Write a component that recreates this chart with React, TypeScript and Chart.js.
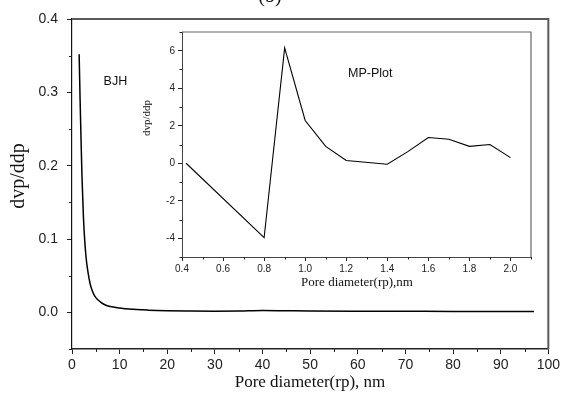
import React, { useEffect, useRef } from "react";
import { Chart, registerables } from "chart.js";
Chart.register(...registerables);

// Main chart (BJH)
const BJH_X = [1.5, 1.7, 1.9, 2.1, 2.4, 2.7, 3.0, 3.4, 3.8, 4.4, 5.0, 6.0, 7.0, 8.0, 10, 12, 16, 20, 25, 30, 35, 40, 45, 50, 60, 70, 80, 90, 97];
const BJH_Y = [0.352, 0.29, 0.235, 0.185, 0.13, 0.095, 0.072, 0.053, 0.039, 0.027, 0.02, 0.014, 0.01, 0.008, 0.006, 0.0045, 0.003, 0.0022, 0.0018, 0.0016, 0.0018, 0.0025, 0.0022, 0.0019, 0.0016, 0.0014, 0.0012, 0.0011, 0.001];
const MAIN_X_TICKS = [0, 10, 20, 30, 40, 50, 60, 70, 80, 90, 100];
const MAIN_X_MINOR = [5, 15, 25, 35, 45, 55, 65, 75, 85, 95];
const MAIN_Y_TICKS = [0.0, 0.1, 0.2, 0.3, 0.4];
const MAIN_Y_MINOR = [-0.05, 0.05, 0.15, 0.25, 0.35];

// Inset chart (MP-Plot)
const MP_X = [0.42, 0.8, 0.9, 1.0, 1.1, 1.2, 1.4, 1.5, 1.6, 1.7, 1.8, 1.9, 2.0];
const MP_Y = [0, -3.97, 6.15, 2.28, 0.9, 0.15, -0.05, 0.62, 1.37, 1.28, 0.9, 1.0, 0.3];
const INSET_X_TICKS = [0.4, 0.6, 0.8, 1.0, 1.2, 1.4, 1.6, 1.8, 2.0];
const INSET_X_MINOR = [0.5, 0.7, 0.9, 1.1, 1.3, 1.5, 1.7, 1.9, 2.1];
const INSET_Y_TICKS = [-4, -2, 0, 2, 4, 6];
const INSET_Y_MINOR = [-5, -3, -1, 1, 3, 5, 7];

const SANS = "'Liberation Sans', Arial, sans-serif";
const SERIF = "'Liberation Serif', 'Times New Roman', serif";

type Decor = {
  xMinor: number[];
  yMinor: number[];
  minorLen: number;
  frameColor: string;
  frameWidth: number;
  texts: { text: string; x: number; y: number; font: string; rotate?: boolean; align?: CanvasTextAlign }[];
  dataTexts: { text: string; x: number; y: number; font: string }[];
};

function makeDecor(d: Decor) {
  return {
    id: "decor",
    afterDraw(chart: any) {
      const ctx = chart.ctx as CanvasRenderingContext2D;
      const { left, right, top, bottom } = chart.chartArea;
      const xs = chart.scales.x;
      const ys = chart.scales.y;
      ctx.save();
      // frame top/right
      ctx.strokeStyle = d.frameColor;
      ctx.lineWidth = d.frameWidth;
      ctx.beginPath();
      ctx.moveTo(left, top);
      ctx.lineTo(right, top);
      ctx.lineTo(right, bottom);
      ctx.stroke();
      // minor ticks
      ctx.strokeStyle = "#222";
      ctx.lineWidth = 1;
      ctx.beginPath();
      d.xMinor.forEach((v) => {
        const px = Math.round(xs.getPixelForValue(v)) + 0.5;
        ctx.moveTo(px, bottom);
        ctx.lineTo(px, bottom + d.minorLen);
      });
      d.yMinor.forEach((v) => {
        const py = Math.round(ys.getPixelForValue(v)) + 0.5;
        ctx.moveTo(left, py);
        ctx.lineTo(left - d.minorLen, py);
      });
      ctx.stroke();
      // texts
      ctx.fillStyle = "#111";
      d.texts.forEach((t) => {
        ctx.save();
        ctx.font = t.font;
        ctx.textAlign = t.align || "center";
        ctx.textBaseline = "middle";
        ctx.translate(t.x, t.y);
        if (t.rotate) ctx.rotate(-Math.PI / 2);
        ctx.fillText(t.text, 0, 0);
        ctx.restore();
      });
      d.dataTexts.forEach((t) => {
        ctx.font = t.font;
        ctx.textAlign = "center";
        ctx.textBaseline = "middle";
        ctx.fillText(t.text, xs.getPixelForValue(t.x), ys.getPixelForValue(t.y));
      });
      ctx.restore();
    },
  };
}

function axis(opts: any) {
  return {
    type: "linear",
    min: opts.min,
    max: opts.max,
    afterBuildTicks: (s: any) => {
      s.ticks = opts.ticks.map((v: number) => ({ value: v }));
    },
    afterFit: opts.afterFit,
    grid: { drawOnChartArea: false, drawTicks: true, tickLength: opts.tickLen, tickColor: "#222", tickWidth: 1 },
    border: { display: true, color: opts.borderColor, width: opts.borderWidth },
    ticks: {
      autoSkip: false,
      maxRotation: 0,
      minRotation: 0,
      padding: opts.padding,
      color: "#222",
      font: { family: SANS, size: opts.fontSize },
      callback: opts.fmt,
    },
  };
}

export default function App() {
  const mainRef = useRef<HTMLCanvasElement>(null);
  const insetRef = useRef<HTMLCanvasElement>(null);

  useEffect(() => {
    document.body.style.margin = "0";
    const main = new Chart(mainRef.current as HTMLCanvasElement, {
      type: "line",
      data: {
        datasets: [
          {
            data: BJH_X.map((x, i) => ({ x, y: BJH_Y[i] })),
            borderColor: "#000",
            borderWidth: 1.5,
            pointRadius: 0,
            cubicInterpolationMode: "monotone",
            fill: false,
          },
        ],
      },
      options: {
        responsive: false,
        animation: false,
        devicePixelRatio: 1,
        layout: { padding: { left: 0, right: 14, top: 19, bottom: 0 } },
        plugins: { legend: { display: false }, tooltip: { enabled: false }, title: { display: false } },
        scales: {
          x: axis({
            min: 0, max: 100, ticks: MAIN_X_TICKS, tickLen: 5, padding: 3, fontSize: 14,
            borderColor: "#222", borderWidth: 1.5,
            afterFit: (s: any) => { s.height = 51; },
            fmt: (v: any) => String(v),
          }),
          y: axis({
            min: -0.05, max: 0.4, ticks: MAIN_Y_TICKS, tickLen: 5, padding: 9, fontSize: 14,
            borderColor: "#111", borderWidth: 1.2,
            afterFit: (s: any) => { s.width = 72; },
            fmt: (v: any) => Number(v).toFixed(1),
          }),
        },
      },
      plugins: [
        makeDecor({
          xMinor: MAIN_X_MINOR,
          yMinor: MAIN_Y_MINOR,
          minorLen: 3,
          frameColor: "#5a5a5a",
          frameWidth: 2,
          texts: [
            { text: "(b)", x: 270, y: -3, font: `20px ${SERIF}` },
            { text: "dvp/ddp", x: 19, y: 176, font: `20px ${SERIF}`, rotate: true },
            { text: "Pore diameter(rp), nm", x: 310, y: 383, font: `17px ${SERIF}` },
          ],
          dataTexts: [{ text: "BJH", x: 9.1, y: 0.315, font: `12.5px ${SANS}` }],
        }) as any,
      ],
    } as any);

    const inset = new Chart(insetRef.current as HTMLCanvasElement, {
      type: "line",
      data: {
        datasets: [
          {
            data: MP_X.map((x, i) => ({ x, y: MP_Y[i] })),
            borderColor: "#000",
            borderWidth: 1.1,
            pointRadius: 0,
            tension: 0,
            fill: false,
          },
        ],
      },
      options: {
        responsive: false,
        animation: false,
        devicePixelRatio: 1,
        layout: { padding: { left: 0, right: 19, top: 12, bottom: 0 } },
        plugins: { legend: { display: false }, tooltip: { enabled: false }, title: { display: false } },
        scales: {
          x: axis({
            min: 0.4, max: 2.1, ticks: INSET_X_TICKS, tickLen: 4, padding: 2, fontSize: 10,
            borderColor: "#444", borderWidth: 1,
            afterFit: (s: any) => { s.height = 43; },
            fmt: (v: any) => Number(v).toFixed(1),
          }),
          y: axis({
            min: -5, max: 7, ticks: INSET_Y_TICKS, tickLen: 4, padding: 3, fontSize: 10,
            borderColor: "#444", borderWidth: 1,
            afterFit: (s: any) => { s.width = 52; },
            fmt: (v: any) => String(v),
          }),
        },
      },
      plugins: [
        makeDecor({
          xMinor: INSET_X_MINOR,
          yMinor: INSET_Y_MINOR,
          minorLen: 2.5,
          frameColor: "#666",
          frameWidth: 1.2,
          texts: [
            { text: "dvp/ddp", x: 17, y: 98, font: `11px ${SERIF}`, rotate: true },
            { text: "Pore diameter(rp),nm", x: 227, y: 263, font: `13px ${SERIF}` },
          ],
          dataTexts: [{ text: "MP-Plot", x: 1.317, y: 4.8, font: `12.5px ${SANS}` }],
        }) as any,
      ],
    } as any);

    return () => {
      main.destroy();
      inset.destroy();
    };
  }, []);

  return (
    <div style={{ position: "relative", width: 563, height: 400, background: "#fff" }}>
      <canvas ref={mainRef} width={563} height={400} style={{ position: "absolute", left: 0, top: 0, width: 563, height: 400 }} />
      <canvas ref={insetRef} width={420} height={280} style={{ position: "absolute", left: 130, top: 20, width: 420, height: 280 }} />
    </div>
  );
}
